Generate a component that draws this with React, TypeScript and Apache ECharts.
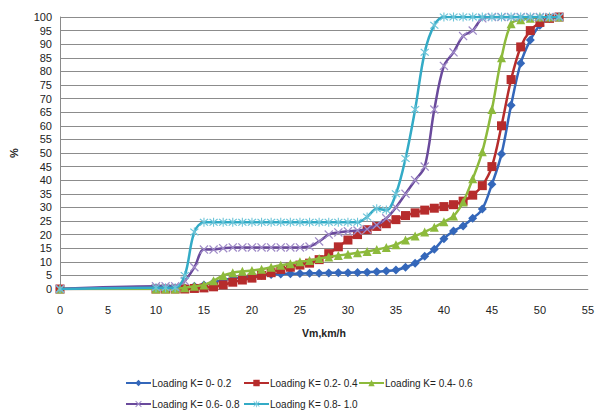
import React, { useEffect, useRef } from "react";
import * as echarts from "echarts";

const speeds = [0, 10, 11, 12, 13, 14, 15, 16, 17, 18, 19, 20, 21, 22, 23, 24, 25, 26, 27, 28, 29, 30, 31, 32, 33, 34, 35, 36, 37, 38, 39, 40, 41, 42, 43, 44, 45, 46, 47, 48, 49, 50, 51, 52];

const k0 = [0, 0.3, 0.3, 0.3, 0.5, 1, 1.5, 2.5, 3.3, 3.8, 4.3, 4.7, 5, 5.3, 5.5, 5.6, 5.7, 5.8, 5.8, 5.9, 6, 6, 6.1, 6.2, 6.3, 6.6, 7, 8, 9.5, 12, 14.6, 18.5, 21.3, 23.2, 26, 29.4, 38.5, 49.6, 67.6, 83, 91.5, 97, 99.5, 100];
const k2 = [0, 0, 0, 0, 0, 0.2, 0.4, 0.8, 1.5, 2.5, 3.3, 4, 5, 6, 7.2, 8, 8.8, 9.5, 10.8, 13, 15.5, 18, 20, 21.8, 23, 24, 25.5, 27, 28, 29, 29.7, 30.3, 31, 32.3, 34.5, 38, 45, 60, 77, 89, 95, 98, 99.5, 100];
const k4 = [0, 0, 0, 0, 0.5, 1, 1.5, 3, 5, 6, 6.5, 6.8, 7.3, 8, 8.7, 9.3, 10, 10.5, 11.2, 11.8, 12.3, 12.8, 13.3, 13.8, 14.5, 15.3, 16.3, 18, 19.5, 21, 22.7, 24.7, 26.8, 32, 40.5, 50.5, 66, 85, 97.5, 99, 99.5, 100, 100, 100];
const k6 = [0, 1, 1, 1, 3, 8, 14.5, 14.5, 15, 15.3, 15.3, 15.3, 15.3, 15.3, 15.3, 15.3, 15.3, 15.6, 17.5, 20, 20.8, 21.2, 21.5, 22, 23.5, 26, 30, 35, 40, 45, 66, 82, 87, 93, 95, 99.5, 100, 100, 100, 100, 100, 100, 100, 100];
const k8 = [0, 0.5, 0.5, 0.5, 5, 21, 24.5, 24.5, 24.5, 24.5, 24.5, 24.5, 24.5, 24.5, 24.5, 24.5, 24.5, 24.5, 24.5, 24.5, 24.5, 24.5, 24.5, 26.5, 29.5, 29, 35, 48, 66, 87, 97, 100, 100, 100, 100, 100, 100, 100, 100, 100, 100, 100, 100, 100];

const names = ["Loading K= 0- 0.2", "Loading K= 0.2- 0.4", "Loading K= 0.4- 0.6", "Loading K= 0.6- 0.8", "Loading K= 0.8- 1.0"];
const xTicks = { min: 0, max: 55, interval: 5 };
const yTicks = { min: 0, max: 100, interval: 5 };

const X_PATH = "path://M0,1L1,0L5,4L9,0L10,1L6,5L10,9L9,10L5,6L1,10L0,9L4,5Z";
const STAR_PATH = "path://M0,1L1,0L5,4L9,0L10,1L6,5L10,9L9,10L5,6L1,10L0,9L4,5Z M4.4,-1L5.6,-1L5.6,11L4.4,11Z";

const FONT = "Liberation Sans";

export default function App() {
  const ref = useRef<HTMLDivElement>(null);
  useEffect(() => {
    if (!ref.current) return;
    const chart = echarts.init(ref.current, undefined, { renderer: "svg" });
    const all = [k0, k2, k4, k6, k8];
    const lineColors = ["#3467BA", "#B62C2C", "#8DBA3C", "#6A4A9C", "#33ABC6"];
    const markColors = ["#3467BA", "#B62C2C", "#8DBA3C", "#A08CC8", "#6CC4D8"];
    const symbols = ["diamond", "rect", "triangle", X_PATH, STAR_PATH];
    const sizes = [9, 9, 9, 9, 9];
    const series = all.map((vals, si) => ({
      name: names[si],
      type: "line",
      data: speeds.map((x, i) => [x, vals[i]]),
      smooth: 0.35,
      symbol: symbols[si],
      symbolSize: sizes[si],
      showAllSymbol: true,
      lineStyle: { color: lineColors[si], width: 2.5 },
      itemStyle: { color: markColors[si] },
      z: 2 + si,
    }));
    const legendPos = [
      [125, 378],
      [243, 378],
      [358, 378],
      [125, 399],
      [243, 399],
    ];
    const legend = names.map((n, i) => ({
      data: [n],
      left: legendPos[i][0],
      top: legendPos[i][1],
      itemWidth: 25,
      itemHeight: 8,
      padding: 0,
      textStyle: { fontFamily: FONT, fontSize: 10, color: "#222", padding: [0, 0, 0, -4] },
    }));
    chart.setOption({
      animation: false,
      backgroundColor: "#fff",
      textStyle: { fontFamily: FONT },
      grid: { left: 54, right: 5, top: 17, bottom: 123 },
      legend,
      xAxis: {
        type: "value",
        min: xTicks.min,
        max: xTicks.max,
        interval: xTicks.interval,
        name: "Vm,km/h",
        nameLocation: "middle",
        nameGap: 38,
        nameTextStyle: { fontFamily: FONT, fontSize: 10.5, fontWeight: "bold", color: "#222" },
        axisLine: { lineStyle: { color: "#8a8a8a", width: 1 } },
        axisTick: { show: false },
        splitLine: { show: false },
        axisLabel: { fontFamily: FONT, fontSize: 11, color: "#222", margin: 15 },
      },
      yAxis: {
        type: "value",
        min: yTicks.min,
        max: yTicks.max,
        interval: yTicks.interval,
        name: "%",
        nameLocation: "middle",
        nameGap: 41,
        nameRotate: 90,
        nameTextStyle: { fontFamily: FONT, fontSize: 11, fontWeight: "bold", color: "#222" },
        axisLine: { show: true, lineStyle: { color: "#8a8a8a", width: 1 } },
        axisTick: { show: false },
        splitLine: { show: true, lineStyle: { color: "#8c8c8c", width: 1 } },
        axisLabel: { fontFamily: FONT, fontSize: 11, color: "#222", margin: 8 },
      },
      series,
    });
    return () => chart.dispose();
  }, []);
  return <div ref={ref} style={{ width: 597, height: 412, position: "absolute", left: 0, top: 0 }} />;
}
